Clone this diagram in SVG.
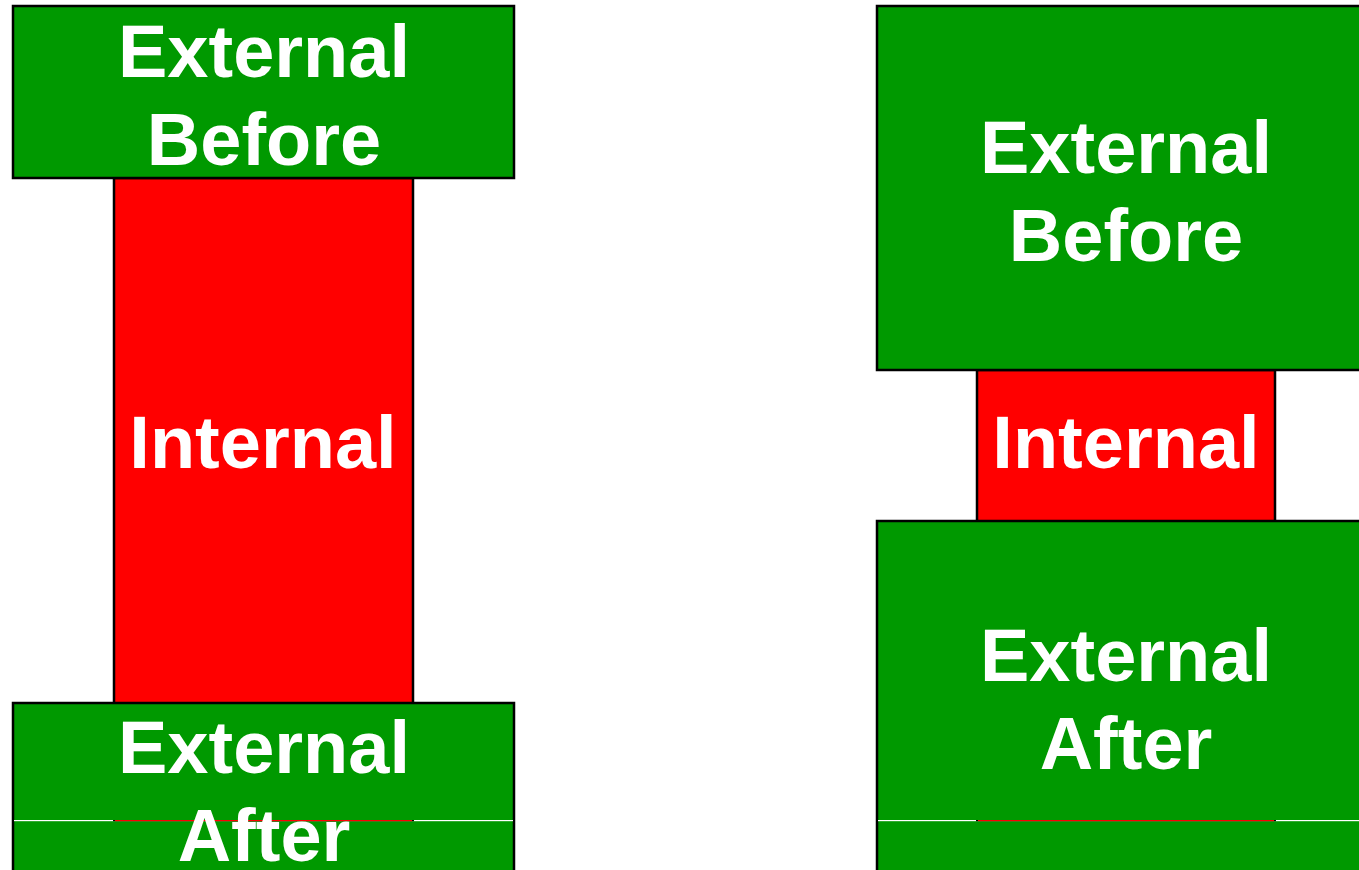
<svg xmlns="http://www.w3.org/2000/svg" width="1359" height="870" viewBox="0 0 1359 870">
<style>
.ext{fill:#009900;stroke:#000;stroke-width:2.5}
.int{fill:#ff0000;stroke:#000;stroke-width:2.5}
.lbl{font-family:"Liberation Sans",Arial,sans-serif;font-weight:bold;font-size:74px;fill:#fff;text-anchor:middle}
</style>
<rect width="1359" height="870" fill="#fff"/>
<g id="left-internal">
<rect class="int" x="114" y="178" width="299" height="700"/>
<text class="lbl" x="263" y="468">Internal</text>
</g>
<g id="left-external-before">
<rect class="ext" x="13" y="6" width="501" height="172"/>
<text class="lbl" x="264" y="77">External</text>
<text class="lbl" x="264" y="165">Before</text>
</g>
<g id="left-external-after">
<rect class="ext" x="13" y="703" width="501" height="180"/>
<text class="lbl" x="264" y="773">External</text>
</g>
<g id="right-internal">
<rect class="int" x="977" y="370" width="298" height="500"/>
<text class="lbl" x="1126" y="468">Internal</text>
</g>
<g id="right-external-before">
<rect class="ext" x="877" y="6" width="500" height="364"/>
<text class="lbl" x="1126" y="173">External</text>
<text class="lbl" x="1126" y="261">Before</text>
</g>
<g id="right-external-after">
<rect class="ext" x="877" y="521" width="500" height="360"/>
<text class="lbl" x="1126" y="681">External</text>
<text class="lbl" x="1126" y="769">After</text>
</g>
<g id="seam">
<rect x="14" y="820" width="499" height="1.2" fill="#fff"/>
<rect x="113" y="820" width="301" height="1.2" fill="#000"/>
<rect x="115" y="820" width="297" height="1.2" fill="#ff0000"/>
<rect x="878" y="820" width="481" height="1.2" fill="#fff"/>
<rect x="976" y="820" width="300" height="1.2" fill="#000"/>
<rect x="978" y="820" width="296" height="1.2" fill="#ff0000"/>
</g>
<g id="left-after-text">
<text class="lbl" x="264" y="861">After</text>
</g>
<g id="connectors"></g>
</svg>
